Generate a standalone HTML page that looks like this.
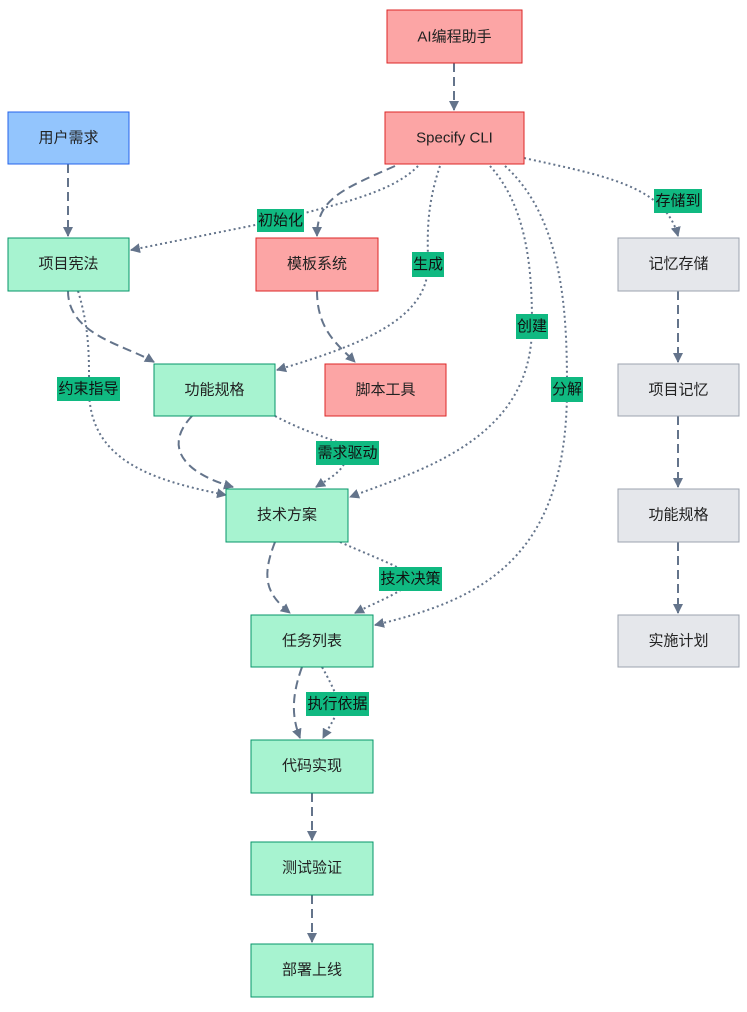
<!DOCTYPE html>
<html><head><meta charset="utf-8"><style>
html,body{margin:0;padding:0;background:#fff;}
svg{display:block;font-family:"Liberation Sans","Noto Sans CJK SC",sans-serif;}
.r{fill:#FCA5A5;stroke:#DC2626;stroke-width:1;}
.g{fill:#A7F3D0;stroke:#059669;stroke-width:1;}
.b{fill:#93C5FD;stroke:#2563EB;stroke-width:1;}
.y{fill:#E5E7EB;stroke:#9CA3AF;stroke-width:1;}
.t{font-size:15px;fill:#222;text-anchor:middle;dominant-baseline:central;}
.da{fill:none;stroke:#64748B;stroke-width:2;stroke-dasharray:9 5;marker-end:url(#a);}
.do{fill:none;stroke:#64748B;stroke-width:2;stroke-dasharray:2 3;marker-end:url(#a);}
.lb{fill:#10B981;}
.lt{font-size:15px;fill:#111;text-anchor:middle;dominant-baseline:central;}
</style></head><body>
<svg width="747" height="1012" viewBox="0 0 747 1012">
<defs><marker id="a" viewBox="0 0 10 10" refX="9" refY="5" markerWidth="5" markerHeight="5" orient="auto"><path d="M0,0L10,5L0,10z" fill="#64748B"/></marker></defs>

<path class="da" d="M454,63L454,110"/>
<path class="da" d="M68,164L68,236"/>
<path class="da" d="M395,166C340,190 317,200 317,236"/>
<path class="da" d="M317,291C317,330 338,345 355,362"/>
<path class="da" d="M68,291C68,335 125,345 154,362"/>
<path class="da" d="M192,416C160,450 190,475 233,487"/>
<path class="da" d="M275,542C260,580 268,595 290,613"/>
<path class="da" d="M302,667C290,700 293,720 300,738"/>
<path class="da" d="M312,793L312,840"/>
<path class="da" d="M312,895L312,942"/>
<path class="da" d="M678,291L678,362"/>
<path class="da" d="M678,416L678,487"/>
<path class="da" d="M678,542L678,613"/>

<path class="do" d="M418,166C390,195 330,205 280,220L131,250"/>
<path class="do" d="M440,166C425,210 428,240 428,265C428,320 360,345 277,370"/>
<path class="do" d="M490,166C530,210 532,280 532,326C532,440 420,470 350,497"/>
<path class="do" d="M505,166C565,220 567,320 567,389C567,560 480,600 375,625"/>
<path class="do" d="M524,158C600,175 665,185 678,236"/>
<path class="do" d="M78,291C90,330 89,360 89,389C89,460 150,480 226,495"/>
<path class="do" d="M275,416C320,440 347,440 347,452C347,470 330,478 316,487"/>
<path class="do" d="M340,542C380,560 410,570 410,578C410,590 380,600 355,613"/>
<path class="do" d="M322,667C335,690 338,700 338,704C338,715 330,725 323,738"/>

<rect class="r" x="387" y="10" width="135" height="53"/><text class="t" x="454.5" y="37">AI编程助手</text>
<rect class="r" x="385" y="112" width="139" height="52"/><text class="t" x="454.5" y="138">Specify CLI</text>
<rect class="b" x="8" y="112" width="121" height="52"/><text class="t" x="68.5" y="138">用户需求</text>
<rect class="g" x="8" y="238" width="121" height="53"/><text class="t" x="68.5" y="264">项目宪法</text>
<rect class="r" x="256" y="238" width="122" height="53"/><text class="t" x="317" y="264">模板系统</text>
<rect class="y" x="618" y="238" width="121" height="53"/><text class="t" x="678.5" y="264">记忆存储</text>
<rect class="g" x="154" y="364" width="121" height="52"/><text class="t" x="214.5" y="390">功能规格</text>
<rect class="r" x="325" y="364" width="121" height="52"/><text class="t" x="385.5" y="390">脚本工具</text>
<rect class="y" x="618" y="364" width="121" height="52"/><text class="t" x="678.5" y="390">项目记忆</text>
<rect class="g" x="226" y="489" width="122" height="53"/><text class="t" x="287" y="515">技术方案</text>
<rect class="y" x="618" y="489" width="121" height="53"/><text class="t" x="678.5" y="515">功能规格</text>
<rect class="g" x="251" y="615" width="122" height="52"/><text class="t" x="312" y="641">任务列表</text>
<rect class="y" x="618" y="615" width="121" height="52"/><text class="t" x="678.5" y="641">实施计划</text>
<rect class="g" x="251" y="740" width="122" height="53"/><text class="t" x="312" y="766">代码实现</text>
<rect class="g" x="251" y="842" width="122" height="53"/><text class="t" x="312" y="868">测试验证</text>
<rect class="g" x="251" y="944" width="122" height="53"/><text class="t" x="312" y="970">部署上线</text>

<rect class="lb" x="257" y="209" width="47" height="23"/><text class="lt" x="280.5" y="220.5">初始化</text>
<rect class="lb" x="412" y="252" width="32" height="25"/><text class="lt" x="428" y="264.5">生成</text>
<rect class="lb" x="516" y="314" width="32" height="25"/><text class="lt" x="532" y="326.5">创建</text>
<rect class="lb" x="551" y="377" width="32" height="25"/><text class="lt" x="567" y="389.5">分解</text>
<rect class="lb" x="654" y="189" width="48" height="24"/><text class="lt" x="678" y="201">存储到</text>
<rect class="lb" x="57" y="377" width="63" height="24"/><text class="lt" x="88.5" y="389">约束指导</text>
<rect class="lb" x="316" y="441" width="63" height="24"/><text class="lt" x="347.5" y="453">需求驱动</text>
<rect class="lb" x="379" y="567" width="63" height="24"/><text class="lt" x="410.5" y="579">技术决策</text>
<rect class="lb" x="306" y="692" width="63" height="24"/><text class="lt" x="337.5" y="704">执行依据</text>
</svg>
</body></html>
